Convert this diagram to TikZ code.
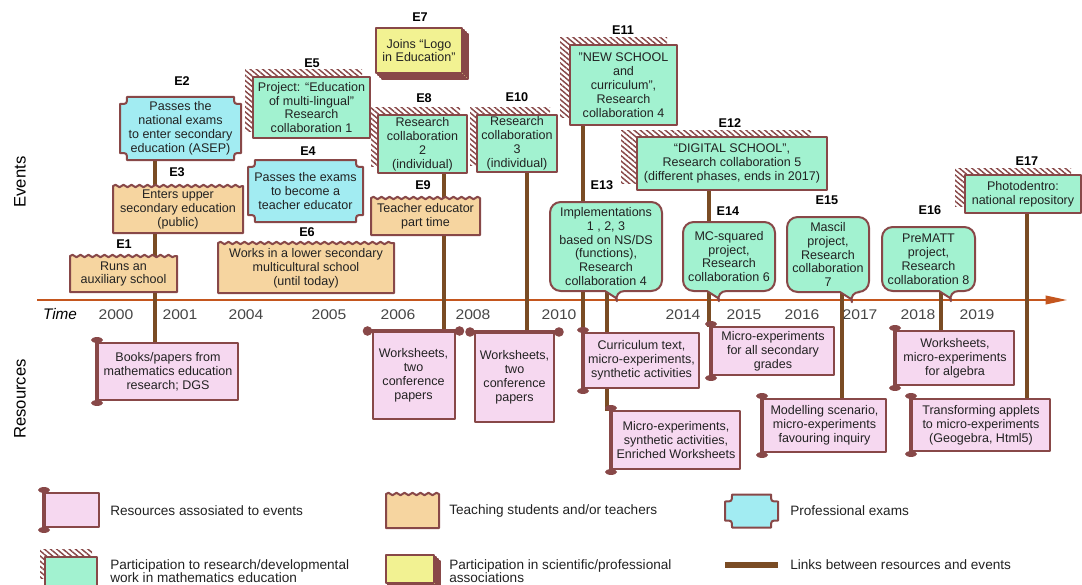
\documentclass[tikz,border=0pt]{standalone}
\usepackage{fontspec}
\setmainfont{Liberation Sans}
\usepackage{graphicx}
\usetikzlibrary{calc,arrows.meta,decorations.pathmorphing,patterns.meta}
\definecolor{framecol}{RGB}{136,72,72}
\definecolor{pinkc}{RGB}{246,216,240}
\definecolor{orangec}{RGB}{246,213,160}
\definecolor{cyanc}{RGB}{162,236,242}
\definecolor{greenc}{RGB}{162,242,208}
\definecolor{yellowc}{RGB}{242,242,146}
\definecolor{linkc}{RGB}{122,76,36}
\definecolor{axisc}{RGB}{196,86,30}
\definecolor{textc}{RGB}{34,34,34}
\definecolor{yearc}{RGB}{70,70,70}
\pgfdeclarelayer{axislayer}
\pgfdeclarelayer{linklayer}
\pgfdeclarelayer{framelayer}
\pgfsetlayers{axislayer,linklayer,framelayer,main}
\newcommand\boxfont{\fontsize{9.4}{10.4}\selectfont}
\newcommand\yr[1]{\scalebox{1.12}[1]{#1}}
% frame macros
\newcommand\teachfr[1]{%
  \draw[frm, fill=orangec] (#1.south west) -- (#1.north west)
    decorate[decoration={snake,segment length=6pt,amplitude=0.9pt}] {-- (#1.north east)}
    -- (#1.south east) -- cycle;}
\newcommand\examfr[1]{%
  \draw[frm, fill=cyanc]
    ($(#1.north west)+(7,0)$) -- ($(#1.north east)+(-7,0)$)
    .. controls ($(#1.north east)+(-7,7)$) .. ($(#1.north east)+(0,7)$)
    -- ($(#1.south east)+(0,-7)$)
    .. controls ($(#1.south east)+(-7,-7)$) .. ($(#1.south east)+(-7,0)$)
    -- ($(#1.south west)+(7,0)$)
    .. controls ($(#1.south west)+(7,-7)$) .. ($(#1.south west)+(0,-7)$)
    -- ($(#1.north west)+(0,7)$)
    .. controls ($(#1.north west)+(7,7)$) .. ($(#1.north west)+(7,0)$) -- cycle;}
\newcommand\resfr[2]{%
  \fill[pattern={Lines[angle=-40,distance=3pt,line width=1.1pt]}, pattern color=framecol]
    ($(#1.north west)+(-#2,-7)$) rectangle ($(#1.south east)+(-#2,-7)$);
  \draw[frm, fill=greenc] (#1.north west) rectangle (#1.south east);}
\newcommand\bubfr[2]{%
  \draw[frm, fill=greenc, rounded corners=8pt] (#1.north west) -- (#1.north east) -- (#1.south east)
    -- ($(#1.south west)+(#2+9,0)$) [sharp corners] -- ($(#1.south west)+(#2+11,7)$)
    -- ($(#1.south west)+(#2,0)$) [rounded corners=8pt] -- (#1.south west) -- cycle;}
\newcommand\stackfr[1]{%
  \foreach \d in {6,4,2} {\draw[frm, line width=0.8pt, fill=yellowc]
    ($(#1.north west)+(\d,\d)$) rectangle ($(#1.south east)+(\d,\d)$);}
  \draw[frm, fill=yellowc] (#1.north west) rectangle (#1.south east);}
\newcommand\scrollL[1]{%
  \draw[frm, fill=pinkc] (#1.north west) rectangle (#1.south east);
  \draw[framecol, line width=3pt] ($(#1.north west)+(-1,-3)$) -- ($(#1.south west)+(-1,3)$);
  \fill[framecol] ($(#1.north west)+(-1,-3)$) ellipse [x radius=4.5pt, y radius=2.2pt];
  \fill[framecol] ($(#1.south west)+(-1,3)$) ellipse [x radius=4.5pt, y radius=2.2pt];}
\newcommand\scrollT[1]{%
  \draw[frm, fill=pinkc] (#1.north west) rectangle (#1.south east);
  \draw[framecol, line width=3pt] ($(#1.north west)+(-5,0)$) -- ($(#1.north east)+(5,0)$);
  \fill[framecol] ($(#1.north west)+(-5,0)$) circle [radius=3.6pt];
  \fill[framecol] ($(#1.north east)+(5,0)$) circle [radius=3.6pt];}
\begin{document}
\begin{tikzpicture}[x=0.75pt,y=-0.75pt,
  frm/.style={draw=framecol, line width=1.5pt, line join=round},
  ev/.style={font=\boxfont, text=textc, align=center, inner sep=1pt, outer sep=0pt},
  sz/.style 2 args={minimum width=#1*0.75pt, minimum height=#2*0.75pt},
  elab/.style={font=\bfseries\fontsize{9.5}{10}\selectfont, text=black, inner sep=0pt},
  year/.style={font=\fontsize{10.5}{11}\selectfont, text=yearc, inner sep=0pt},
  side/.style={font=\fontsize{12.5}{13}\selectfont, text=black, inner sep=0pt},
  link/.style={draw=linkc, line width=3.3pt},
  axisline/.style={draw=axisc, line width=1.1pt, -{Triangle[length=16pt,width=6.5pt]}},
  legt/.style={font=\fontsize{10.2}{10}\selectfont, text=textc, anchor=west, align=left, inner sep=0pt}]
\useasboundingbox (0,0) rectangle (1082,585);

% side labels
\node[side, rotate=90] (evlab) at (20,182) {Events};
\node[side, rotate=90] (reslab) at (20,399) {Resources};

% time axis
\coordinate (ax0) at (37,300);
\coordinate (ax1) at (1067,300);
\begin{pgfonlayer}{axislayer}
\draw[axisline] (ax0) -- (ax1);
\end{pgfonlayer}
\node[font=\itshape\fontsize{11.5}{12}\selectfont, inner sep=0pt] (time) at (60,314) {Time};
\node[year] (y2000) at (116,315) {\yr{2000}};
\node[year] (y2001) at (180,315) {\yr{2001}};
\node[year] (y2004) at (246,315) {\yr{2004}};
\node[year] (y2005) at (329,315) {\yr{2005}};
\node[year] (y2006) at (398,315) {\yr{2006}};
\node[year] (y2008) at (473,315) {\yr{2008}};
\node[year] (y2010) at (559,315) {\yr{2010}};
\node[year] (y2014) at (683,315) {\yr{2014}};
\node[year] (y2015) at (744,315) {\yr{2015}};
\node[year] (y2016) at (802,315) {\yr{2016}};
\node[year] (y2017) at (860,315) {\yr{2017}};
\node[year] (y2018) at (918,315) {\yr{2018}};
\node[year] (y2019) at (977,315) {\yr{2019}};

% events
\node[ev, sz={107}{36}] (E1) at (123.5,274) {Runs an\\auxiliary school};
\node[ev, sz={130}{47}] (E3) at (178,209.5) {Enters upper\\secondary education\\(public)};
\node[ev, sz={121}{63}] (E2) at (180.5,128.5) {Passes the\\national exams\\to enter secondary\\education (ASEP)};
\node[ev, sz={117}{61}] (E5) at (311.5,107.5) {Project: “Education\\of multi-lingual”\\Research\\collaboration 1};
\node[ev, sz={115}{62}] (E4) at (305.5,191) {Passes the exams\\to become a\\teacher educator};
\node[ev, sz={176}{50}] (E6) at (306,268) {Works in a lower secondary\\multicultural school\\(until today)};
\node[ev, sz={86}{45}] (E7) at (419,50.5) {Joins “Logo\\in Education”};
\node[ev, sz={89}{58}] (E8) at (422.5,144) {Research\\collaboration\\2\\(individual)};
\node[ev, sz={109}{37}] (E9) at (425.5,216.5) {Teacher educator\\part time};
\node[ev, sz={80}{57}] (E10) at (517,143.5) {Research\\collaboration\\3\\(individual)};
\node[ev, sz={107}{80}] (E11) at (623.5,85) {"NEW SCHOOL\\and\\curriculum",\\Research\\collaboration 4};
\node[ev, sz={190}{53}] (E12) at (732,163.5) {“DIGITAL SCHOOL”,\\Research collaboration 5\\(different phases, ends in 2017)};
\node[ev, sz={112}{89}] (E13) at (606,246.5) {Implementations\\1 , 2, 3\\based on NS/DS\\(functions),\\Research\\collaboration 4};
\node[ev, sz={92}{69}] (E14) at (729,256.5) {MC-squared\\project,\\Research\\collaboration 6};
\node[ev, sz={82}{75}] (E15) at (828,254.5) {Mascil\\project,\\Research\\collaboration\\7};
\node[ev, sz={93}{64}] (E16) at (928.5,259) {PreMATT\\project,\\Research\\collaboration 8};
\node[ev, sz={116}{38}] (E17) at (1023,194) {Photodentro:\\national repository};

% event labels
\node[elab] (lE1) at (124,244) {E1};
\node[elab] (lE2) at (182,81) {E2};
\node[elab] (lE3) at (177,172) {E3};
\node[elab] (lE4) at (308,151) {E4};
\node[elab] (lE5) at (312,63) {E5};
\node[elab] (lE6) at (307,232) {E6};
\node[elab] (lE7) at (420,17) {E7};
\node[elab] (lE8) at (424,98) {E8};
\node[elab] (lE9) at (423,185) {E9};
\node[elab] (lE10) at (517,97) {E10};
\node[elab] (lE11) at (623,30) {E11};
\node[elab] (lE12) at (730,123) {E12};
\node[elab] (lE13) at (602,185) {E13};
\node[elab] (lE14) at (728,211) {E14};
\node[elab] (lE15) at (827,200) {E15};
\node[elab] (lE16) at (930,210) {E16};
\node[elab] (lE17) at (1027,161) {E17};

% resources
\node[ev, sz={140}{57}] (R1) at (168,371.5) {Books/papers from\\mathematics education\\research; DGS};
\node[ev, sz={82}{88}] (R2) at (413.5,375) {Worksheets,\\two\\conference\\papers};
\node[ev, sz={79}{90}] (R3) at (514.5,377) {Worksheets,\\two\\conference\\papers};
\node[ev, sz={115}{55}] (R4) at (641.5,360.5) {Curriculum text,\\micro-experiments,\\synthetic activities};
\node[ev, sz={128}{58}] (R5) at (676,440) {Micro-experiments,\\synthetic activities,\\Enriched Worksheets};
\node[ev, sz={122}{48}] (R6) at (773,351) {Micro-experiments\\for all secondary\\grades};
\node[ev, sz={123}{53}] (R7) at (824.5,425.5) {Modelling scenario,\\micro-experiments\\favouring inquiry};
\node[ev, sz={118}{54}] (R8) at (955,358) {Worksheets,\\micro-experiments\\for algebra};
\node[ev, sz={138}{52}] (R9) at (981,425) {Transforming applets\\to micro-experiments\\(Geogebra, Html5)};

% legend
\node[ev, sz={54}{34}] (lg1) at (72,510) {};
\node[ev, sz={53}{34}] (lg2) at (412.5,511) {};
\node[ev, sz={53}{33}] (lg3) at (751.5,511) {};
\node[ev, sz={52}{29}] (lg4) at (71,571) {};
\node[ev, sz={48}{28}] (lg5) at (410,569) {};
\coordinate (lg6a) at (725,565);
\coordinate (lg6b) at (778,565);
\node[legt] (lt1) at (110,511) {Resources assosiated to events};
\node[legt] (lt2) at (449,511) {Teaching students and/or teachers};
\node[legt] (lt3) at (790,511) {Professional exams};
\node[legt] (lt4) at (110,571) {Participation to research/developmental\\work in mathematics education};
\node[legt] (lt5) at (449,571) {Participation in scientific/professional\\associations};
\node[legt] (lt6) at (790,565) {Links between resources and events};

% links
\coordinate (x1) at (155,0);
\coordinate (x2) at (444,0);
\coordinate (x3) at (527,0);
\coordinate (x4) at (583,0);
\coordinate (x5) at (607,0);
\coordinate (x6) at (709,0);
\coordinate (x7) at (842,0);
\coordinate (x8) at (941,0);
\coordinate (x9) at (1027,0);
\begin{pgfonlayer}{linklayer}
\draw[link] (E2.south -| x1) -- (R1.north -| x1);
\draw[link] (E8.south -| x2) -- (R2.north -| x2);
\draw[link] (E10.south -| x3) -- (R3.north -| x3);
\draw[link] (E11.south -| x4) -- (R4.north -| x4);
\draw[link] (E13.south -| x5) -- (R5.north -| x5);
\draw[link] (E12.south -| x6) -- (R6.north -| x6);
\draw[link] (E15.south -| x7) -- (R7.north -| x7);
\draw[link] (E16.south -| x8) -- (R8.north -| x8);
\draw[link] (E17.south -| x9) -- (R9.north -| x9);
\draw[link, line width=4.5pt] (lg6a) -- (lg6b);
\end{pgfonlayer}

% frames
\begin{pgfonlayer}{framelayer}
\teachfr{E1}\teachfr{E3}\teachfr{E6}\teachfr{E9}
\examfr{E2}\examfr{E4}
\resfr{E5}{8}\resfr{E8}{7}\resfr{E10}{7}\resfr{E11}{10}\resfr{E12}{16}\resfr{E17}{10}
\stackfr{E7}
\bubfr{E13}{55}\bubfr{E14}{24}\bubfr{E15}{53}\bubfr{E16}{57}
\scrollL{R1}\scrollT{R2}\scrollT{R3}\scrollL{R4}\scrollL{R5}\scrollL{R6}\scrollL{R7}\scrollL{R8}\scrollL{R9}
\scrollL{lg1}\teachfr{lg2}\examfr{lg3}\resfr{lg4}{5}\stackfr{lg5}
\end{pgfonlayer}
\end{tikzpicture}
\end{document}
